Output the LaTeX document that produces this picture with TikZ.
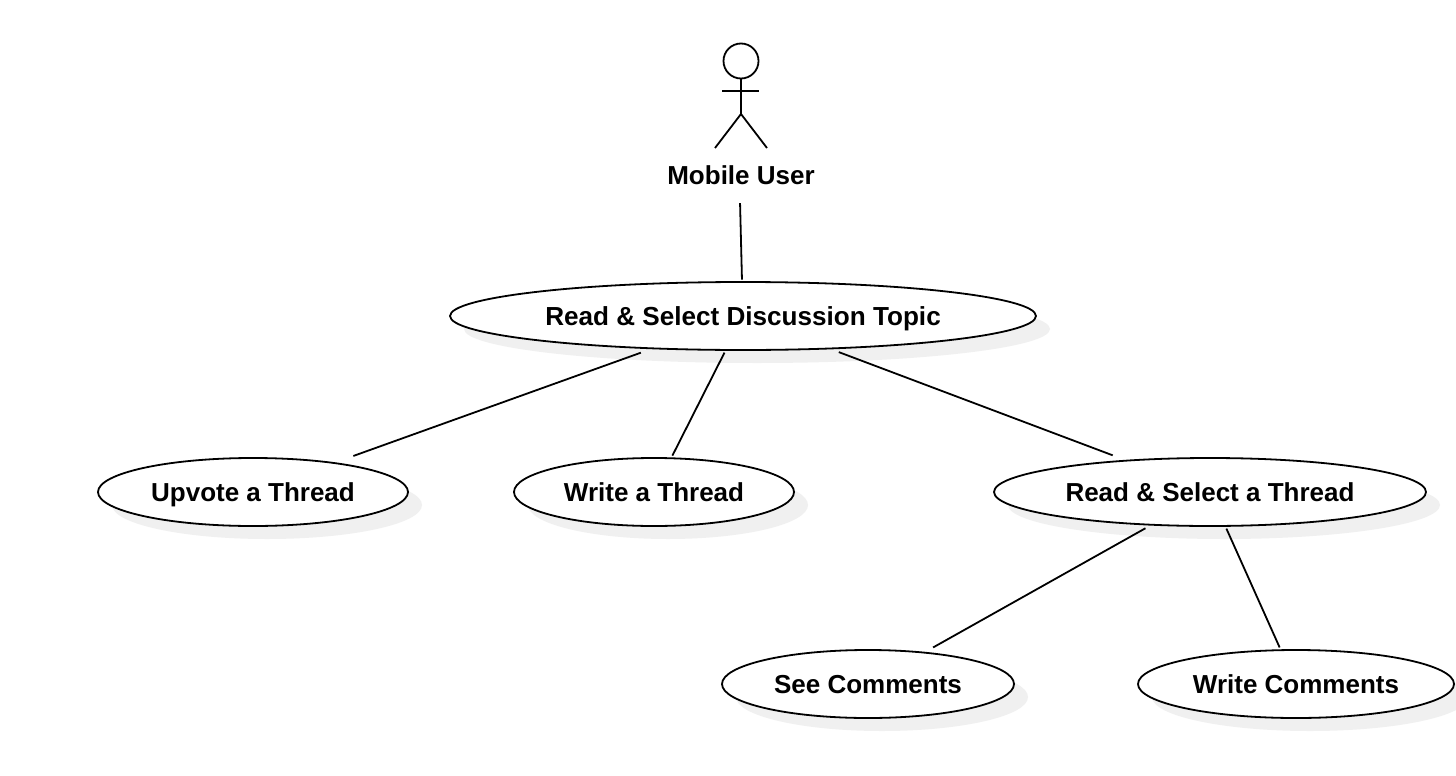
\documentclass[tikz,border=0pt]{standalone}
\usepackage{fontspec}
\setmainfont{Liberation Sans}
\usetikzlibrary{shapes.geometric,shadows}
\definecolor{shadowgray}{HTML}{F0F0F0}
\tikzset{
  usecase/.style={ellipse,draw=black,line width=1.8pt,fill=white,inner sep=0pt,minimum height=68pt,
    text height=18.9pt,text depth=0pt,
    font=\fontsize{26}{30}\bfseries\selectfont,
    copy shadow={shadow xshift=14pt,shadow yshift=-13pt,draw=none,fill=shadowgray}},
  link/.style={draw=black,line width=1.8pt,shorten >=2pt,shorten <=2pt},
  stick/.style={draw=black,line width=1.8pt},
  actorlabel/.style={font=\fontsize{26}{30}\bfseries\selectfont,inner sep=0pt,minimum height=52pt,
    text height=18.9pt,text depth=0pt}
}
\begin{document}
\begin{tikzpicture}[x=1pt,y=-1pt]
\useasboundingbox (0,0) rectangle (1456,776);
\fill[white] (0,0) rectangle (1456,776);
\node[usecase,minimum width=586pt] (main) at (743,316) {\fontsize{26.1}{30}\selectfont Read \& Select Discussion Topic};
\node[usecase,minimum width=310pt] (upvote) at (253,492) {Upvote a Thread};
\node[usecase,minimum width=280pt] (write) at (654,492) {Write a Thread};
\node[usecase,minimum width=432pt] (read) at (1210,492) {Read \& Select a Thread};
\node[usecase,minimum width=292pt] (see) at (868,684) {See Comments};
\node[usecase,minimum width=316pt] (writec) at (1296,684) {Write Comments};
\node[actorlabel] (mobile) at (741,175) {Mobile User};
\node[circle,draw=black,line width=1.8pt,minimum size=35pt,inner sep=0pt] (head) at (741,61) {};
\coordinate (hip) at (741,114);
\coordinate (armL) at (722,91);
\coordinate (armR) at (759,91);
\coordinate (footL) at (715,148);
\coordinate (footR) at (767,148);
\draw[stick] (head.south) -- (hip);
\draw[stick] (armL) -- (armR);
\draw[stick] (footL) -- (hip) -- (footR);
\draw[link,shorten >=1.5pt] ([xshift=-1pt]mobile.south) -- ([xshift=-1pt]main.north);
\draw[link,shorten <=10.5pt,shorten >=19pt] (main) -- (upvote);
\draw[link] (main) -- (write);
\draw[link,shorten <=8pt,shorten >=13pt] (main) -- (read);
\draw[link,shorten <=5.5pt,shorten >=9pt] (read) -- (see);
\draw[link] (read) -- (writec);
\end{tikzpicture}
\end{document}
